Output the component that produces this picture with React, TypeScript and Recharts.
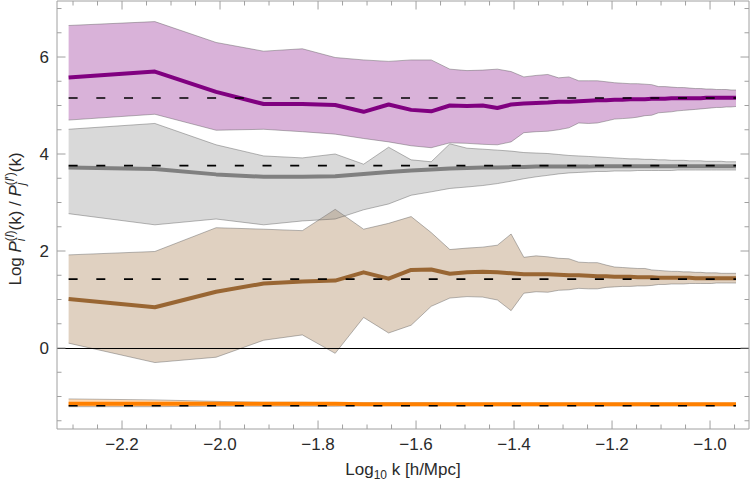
import React from 'react';
import { ComposedChart, Area, Line, XAxis, YAxis, ReferenceLine } from 'recharts';

// log10 of the band centres k = n * k_f, n = 2..46
const kLog = [
  -2.309, -2.133, -2.008, -1.911, -1.832, -1.765, -1.707, -1.656, -1.610, -1.569,
  -1.531, -1.496, -1.464, -1.434, -1.406, -1.380, -1.355, -1.331, -1.309, -1.288,
  -1.268, -1.248, -1.230, -1.212, -1.195, -1.179, -1.163, -1.148, -1.133, -1.119,
  -1.105, -1.092, -1.079, -1.066, -1.054, -1.042, -1.030, -1.019, -1.008, -0.997,
  -0.987, -0.977, -0.967, -0.957, -0.947,
];

const purpleMid = [
  5.58, 5.70, 5.28, 5.03, 5.03, 5.01, 4.87, 5.02, 4.91, 4.88,
  5.00, 4.99, 5.00, 4.95, 5.02, 5.04, 5.05, 5.06, 5.08, 5.08,
  5.09, 5.10, 5.11, 5.11, 5.12, 5.12, 5.13, 5.13, 5.13, 5.14,
  5.14, 5.14, 5.15, 5.15, 5.15, 5.15, 5.15, 5.15, 5.16, 5.16,
  5.16, 5.16, 5.16, 5.16, 5.16,
];
const purpleHi = [
  6.65, 6.73, 6.30, 6.12, 6.17, 5.99, 5.94, 5.91, 5.94, 5.94,
  5.75, 5.72, 5.73, 5.75, 5.70, 5.59, 5.62, 5.64, 5.57, 5.59,
  5.51, 5.51, 5.51, 5.49, 5.47, 5.46, 5.45, 5.45, 5.44, 5.43,
  5.39, 5.39, 5.38, 5.37, 5.37, 5.36, 5.35, 5.35, 5.34, 5.34,
  5.33, 5.33, 5.33, 5.32, 5.32,
];
const purpleLo = [
  4.70, 4.82, 4.49, 4.51, 4.46, 4.41, 4.32, 4.25, 4.17, 4.13,
  4.23, 4.22, 4.20, 4.19, 4.25, 4.44, 4.46, 4.47, 4.50, 4.54,
  4.64, 4.63, 4.64, 4.68, 4.72, 4.73, 4.74, 4.76, 4.79, 4.80,
  4.85, 4.86, 4.87, 4.89, 4.90, 4.91, 4.92, 4.93, 4.94, 4.95,
  4.96, 4.96, 4.97, 4.97, 4.98,
];

const grayMid = [
  3.72, 3.69, 3.58, 3.53, 3.53, 3.54, 3.59, 3.63, 3.66, 3.68,
  3.70, 3.71, 3.72, 3.72, 3.73, 3.73, 3.74, 3.74, 3.74, 3.74,
  3.74, 3.74, 3.75, 3.75, 3.75, 3.75, 3.75, 3.75, 3.75, 3.75,
  3.75, 3.75, 3.75, 3.75, 3.75, 3.75, 3.75, 3.75, 3.75, 3.75,
  3.75, 3.75, 3.75, 3.75, 3.75,
];
const grayHi = [
  4.51, 4.63, 4.19, 3.96, 3.92, 4.00, 3.79, 4.14, 3.88, 3.84,
  4.21, 4.12, 4.10, 4.08, 4.06, 4.03, 4.02, 4.01, 3.99, 3.97,
  3.96, 3.95, 3.94, 3.93, 3.92, 3.91, 3.90, 3.90, 3.89, 3.89,
  3.88, 3.88, 3.87, 3.87, 3.87, 3.86, 3.86, 3.86, 3.85, 3.85,
  3.85, 3.85, 3.84, 3.84, 3.84,
];
const grayLo = [
  2.77, 2.54, 2.66, 2.54, 2.62, 2.66, 2.85, 2.97, 3.15, 3.22,
  3.29, 3.32, 3.35, 3.39, 3.44, 3.49, 3.53, 3.56, 3.59, 3.61,
  3.62, 3.63, 3.64, 3.64, 3.65, 3.65, 3.65, 3.66, 3.66, 3.66,
  3.66, 3.66, 3.66, 3.67, 3.67, 3.67, 3.67, 3.67, 3.67, 3.67,
  3.67, 3.67, 3.67, 3.67, 3.67,
];

const brownMid = [
  1.01, 0.84, 1.16, 1.33, 1.37, 1.39, 1.56, 1.43, 1.61, 1.62,
  1.53, 1.56, 1.57, 1.56, 1.54, 1.52, 1.52, 1.52, 1.51, 1.50,
  1.50, 1.49, 1.48, 1.48, 1.47, 1.47, 1.47, 1.46, 1.46, 1.46,
  1.45, 1.45, 1.45, 1.45, 1.45, 1.45, 1.44, 1.44, 1.44, 1.44,
  1.44, 1.44, 1.44, 1.44, 1.44,
];
const brownHi = [
  1.92, 1.99, 2.48, 2.45, 2.42, 2.86, 2.45, 2.57, 2.71, 2.38,
  2.03, 2.06, 2.08, 2.12, 2.35, 1.87, 1.90, 1.88, 1.85, 1.84,
  1.77, 1.76, 1.76, 1.71, 1.67, 1.66, 1.65, 1.64, 1.64, 1.61,
  1.60, 1.59, 1.58, 1.58, 1.57, 1.57, 1.56, 1.56, 1.55, 1.55,
  1.55, 1.54, 1.54, 1.54, 1.54,
];
const brownLo = [
  0.10, -0.30, -0.19, 0.16, 0.27, -0.11, 0.63, 0.31, 0.47, 0.86,
  1.03, 1.06, 1.05, 0.99, 0.77, 1.13, 1.16, 1.15, 1.19, 1.20,
  1.23, 1.22, 1.22, 1.25, 1.26, 1.27, 1.27, 1.28, 1.28, 1.29,
  1.31, 1.31, 1.32, 1.32, 1.32, 1.33, 1.33, 1.33, 1.33, 1.33,
  1.34, 1.34, 1.34, 1.34, 1.34,
];

const orangeMid = [
  -1.15, -1.15, -1.15, -1.15, -1.15, -1.15, -1.16, -1.16, -1.16, -1.16,
  -1.16, -1.16, -1.16, -1.16, -1.16, -1.16, -1.16, -1.16, -1.16, -1.16,
  -1.16, -1.16, -1.16, -1.16, -1.16, -1.16, -1.16, -1.16, -1.16, -1.16,
  -1.16, -1.16, -1.16, -1.16, -1.16, -1.16, -1.16, -1.16, -1.16, -1.16,
  -1.16, -1.16, -1.16, -1.16, -1.16,
];
const orangeHi = [
  -1.05, -1.07, -1.10, -1.12, -1.12, -1.13, -1.13, -1.13, -1.13, -1.13,
  -1.14, -1.14, -1.14, -1.14, -1.14, -1.14, -1.14, -1.14, -1.14, -1.14,
  -1.14, -1.14, -1.14, -1.14, -1.14, -1.14, -1.14, -1.14, -1.14, -1.14,
  -1.14, -1.14, -1.14, -1.14, -1.14, -1.14, -1.14, -1.14, -1.14, -1.14,
  -1.14, -1.14, -1.14, -1.14, -1.14,
];
const orangeLo = [
  -1.21, -1.21, -1.20, -1.20, -1.20, -1.20, -1.19, -1.19, -1.19, -1.19,
  -1.19, -1.19, -1.19, -1.19, -1.19, -1.19, -1.19, -1.19, -1.19, -1.19,
  -1.19, -1.19, -1.19, -1.19, -1.19, -1.19, -1.19, -1.19, -1.19, -1.19,
  -1.19, -1.19, -1.19, -1.19, -1.19, -1.19, -1.19, -1.19, -1.19, -1.19,
  -1.19, -1.19, -1.19, -1.19, -1.19,
];

// expected (dashed) levels for each pair
const refLevels = [5.155, 3.76, 1.42, -1.19];

const xTicks = [
  -2.3, -2.25, -2.2, -2.15, -2.1, -2.05, -2.0, -1.95, -1.9, -1.85, -1.8, -1.75, -1.7, -1.65,
  -1.6, -1.55, -1.5, -1.45, -1.4, -1.35, -1.3, -1.25, -1.2, -1.15, -1.1, -1.05, -1.0, -0.95,
];
const xMajor = [-2.2, -2.0, -1.8, -1.6, -1.4, -1.2, -1.0];
const yTicks = [-1.5, -1, -0.5, 0, 0.5, 1, 1.5, 2, 2.5, 3, 3.5, 4, 4.5, 5, 5.5, 6, 6.5, 7];
const yMajor = [0, 2, 4, 6];

const X_DOMAIN = [-2.3327, -0.9205];
const Y_DOMAIN = [-1.67, 7.155];

const PURPLE = '#800080';
const GRAY = '#808080';
const BROWN = '#996633';
const ORANGE = '#ff8000';
const FRAME = '#a0a0a0';
const EDGE = '#555555';
const FONT = '"Liberation Sans", Arial, Helvetica, sans-serif';
const LABEL = '#2a2a2a';

const rows = kLog.map((x, i) => ({
  x,
  pm: purpleMid[i],
  pb: [purpleLo[i], purpleHi[i]],
  gm: grayMid[i],
  gb: [grayLo[i], grayHi[i]],
  bm: brownMid[i],
  bb: [brownLo[i], brownHi[i]],
  om: orangeMid[i],
  ob: [orangeLo[i], orangeHi[i]],
}));

const isIn = (v: number, arr: number[]) => arr.some((a) => Math.abs(a - v) < 1e-6);
const fmtX = (v: number) => (v < 0 ? '\u2212' : '') + Math.abs(v).toFixed(1);

function BottomTick(props: any) {
  const { x, y, payload } = props;
  const major = isIn(payload.value, xMajor);
  return (
    <g>
      <line x1={x} x2={x} y1={y} y2={y - (major ? 8.5 : 4.5)} stroke={FRAME} />
      {major && (
        <text x={x} y={y + 21} textAnchor="middle" fontSize={17} fontFamily={FONT} fill={LABEL}>
          {fmtX(payload.value)}
        </text>
      )}
    </g>
  );
}

function TopTick(props: any) {
  const { x, y, payload } = props;
  const major = isIn(payload.value, xMajor);
  return <line x1={x} x2={x} y1={y} y2={y + (major ? 8.5 : 4.5)} stroke={FRAME} />;
}

function LeftTick(props: any) {
  const { x, y, payload } = props;
  const major = isIn(payload.value, yMajor);
  return (
    <g>
      <line x1={x} x2={x + (major ? 8.5 : 4.5)} y1={y} y2={y} stroke={FRAME} />
      {major && (
        <text x={x - 8} y={y + 6} textAnchor="end" fontSize={17} fontFamily={FONT} fill={LABEL}>
          {String(payload.value)}
        </text>
      )}
    </g>
  );
}

function RightTick(props: any) {
  const { x, y, payload } = props;
  const major = isIn(payload.value, yMajor);
  return <line x1={x} x2={x - (major ? 8.5 : 4.5)} y1={y} y2={y} stroke={FRAME} />;
}

function XTitle(props: any) {
  const vb = props.viewBox || { x: 57, y: 429, width: 692, height: 63 };
  const cx = vb.x + vb.width / 2;
  return (
    <text x={cx} y={vb.y + 46} textAnchor="middle" fontSize={17} fontFamily={FONT} fill={LABEL}>
      <tspan>Log</tspan>
      <tspan fontSize={12} dy={4}>10</tspan>
      <tspan dy={-4}> k [h/Mpc]</tspan>
    </text>
  );
}

function YTitle(props: any) {
  const vb = props.viewBox || { x: 0, y: 1, width: 57, height: 428 };
  const cx = vb.x + 21;
  const cy = vb.y + vb.height / 2 + 4;
  return (
    <text
      x={cx}
      y={cy}
      transform={`rotate(-90, ${cx}, ${cy})`}
      textAnchor="middle"
      fontSize={17}
      fontFamily={FONT}
      fill={LABEL}
    >
      <tspan>Log </tspan>
      <tspan fontStyle="italic">P</tspan>
      <tspan fontSize={12} fontStyle="italic" dy={4}>i</tspan>
      <tspan fontSize={12} dx={-2.7} dy={-11}>(</tspan>
      <tspan fontSize={12} fontStyle="italic">l</tspan>
      <tspan fontSize={12}>)</tspan>
      <tspan dy={7}>(k) / </tspan>
      <tspan fontStyle="italic">P</tspan>
      <tspan fontSize={12} fontStyle="italic" dy={4}>j</tspan>
      <tspan fontSize={12} dx={-2.7} dy={-11}>(</tspan>
      <tspan fontSize={12} fontStyle="italic">l</tspan>
      <tspan fontSize={12}>{'\u2032)'}</tspan>
      <tspan dy={7}>(k)</tspan>
    </text>
  );
}

const bandColors = [PURPLE, GRAY, BROWN, ORANGE];

export default function App() {
  const first = kLog[0];
  const last = kLog[kLog.length - 1];
  return (
    <div style={{ position: 'absolute', left: 0, top: 0, background: '#fff' }}>
      <ComposedChart
        width={750}
        height={492}
        data={rows}
        margin={{ top: 0, right: 0, bottom: 0, left: 0 }}
      >
        <XAxis
          type="number"
          dataKey="x"
          domain={X_DOMAIN}
          allowDataOverflow
          ticks={xTicks}
          interval={0}
          height={63}
          tickSize={0}
          tickMargin={0}
          tickLine={false}
          tick={BottomTick}
          axisLine={{ stroke: FRAME }}
          label={{ content: XTitle }}
        />
        <XAxis
          xAxisId="top"
          orientation="top"
          type="number"
          dataKey="x"
          domain={X_DOMAIN}
          allowDataOverflow
          ticks={xTicks}
          interval={0}
          height={1}
          tickSize={0}
          tickMargin={0}
          tickLine={false}
          tick={TopTick}
          axisLine={{ stroke: FRAME }}
        />
        <YAxis
          type="number"
          domain={Y_DOMAIN}
          allowDataOverflow
          ticks={yTicks}
          interval={0}
          width={57}
          tickSize={0}
          tickMargin={0}
          tickLine={false}
          tick={LeftTick}
          axisLine={{ stroke: FRAME }}
          label={{ content: YTitle }}
        />
        <YAxis
          yAxisId="right"
          orientation="right"
          type="number"
          domain={Y_DOMAIN}
          allowDataOverflow
          ticks={yTicks}
          interval={0}
          width={1}
          tickSize={0}
          tickMargin={0}
          tickLine={false}
          tick={RightTick}
          axisLine={{ stroke: FRAME }}
        />

        <Area dataKey="ob" type="linear" fill={ORANGE} fillOpacity={0.3} stroke={EDGE} strokeOpacity={0.6} strokeWidth={0.7} isAnimationActive={false} />
        <Area dataKey="bb" type="linear" fill={BROWN} fillOpacity={0.3} stroke={EDGE} strokeOpacity={0.6} strokeWidth={0.7} isAnimationActive={false} />
        <Area dataKey="gb" type="linear" fill={GRAY} fillOpacity={0.3} stroke={EDGE} strokeOpacity={0.6} strokeWidth={0.7} isAnimationActive={false} />
        <Area dataKey="pb" type="linear" fill={PURPLE} fillOpacity={0.3} stroke={EDGE} strokeOpacity={0.6} strokeWidth={0.7} isAnimationActive={false} />

        <ReferenceLine y={0} stroke="#000" strokeWidth={1} shapeRendering="crispEdges" />

        <Line dataKey="om" type="linear" stroke={ORANGE} strokeWidth={4} dot={false} strokeLinejoin="round" isAnimationActive={false} />
        <Line dataKey="bm" type="linear" stroke={BROWN} strokeWidth={4} dot={false} strokeLinejoin="round" isAnimationActive={false} />
        <Line dataKey="gm" type="linear" stroke={GRAY} strokeWidth={4} dot={false} strokeLinejoin="round" isAnimationActive={false} />
        <Line dataKey="pm" type="linear" stroke={PURPLE} strokeWidth={4} dot={false} strokeLinejoin="round" isAnimationActive={false} />

        {refLevels.map((lvl, i) => (
          <ReferenceLine
            key={bandColors[i]}
            segment={[{ x: first, y: lvl }, { x: last, y: lvl }]}
            stroke="#000"
            strokeWidth={1.6}
            strokeDasharray="9 18.7"
          />
        ))}
      </ComposedChart>
    </div>
  );
}
